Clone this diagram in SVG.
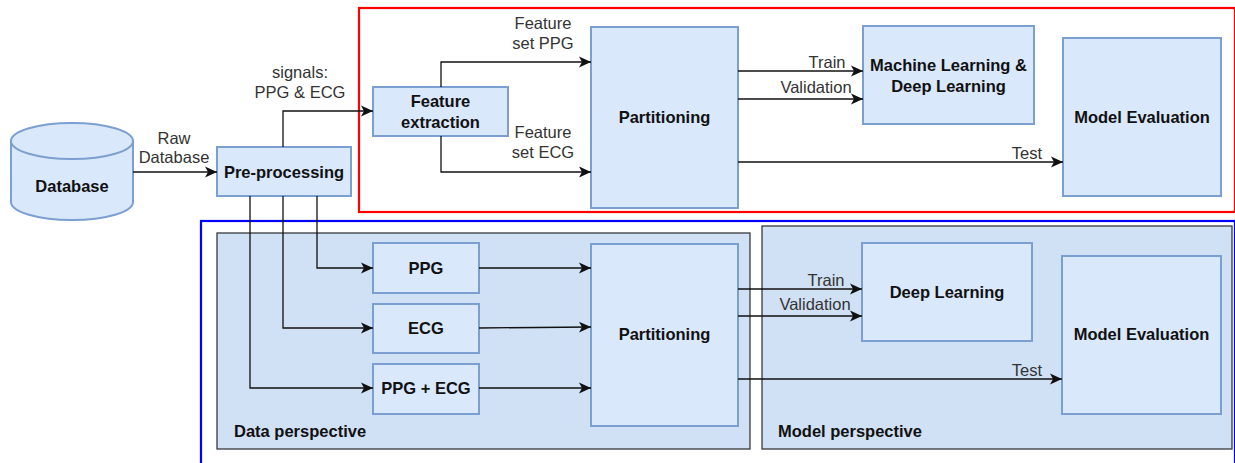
<svg xmlns="http://www.w3.org/2000/svg" width="1235" height="463" viewBox="0 0 1235 463">
<style>
.node{fill:#dae8fc;stroke:#7c9fd1;stroke-width:2}
.persp{fill:#d0e0f5;stroke:#36393d;stroke-width:1.3}
.b{font-family:"Liberation Sans",Arial,sans-serif;font-size:16.5px;font-weight:bold;fill:#111;text-anchor:middle}
.pl{font-family:"Liberation Sans",Arial,sans-serif;font-size:16.5px;font-weight:bold;fill:#111}
.l{font-family:"Liberation Sans",Arial,sans-serif;font-size:16.5px;fill:#333;text-anchor:middle}
.c{fill:none;stroke:#111;stroke-width:1.3}
</style>
<defs>
<marker id="arr" markerUnits="userSpaceOnUse" markerWidth="12" markerHeight="12" refX="10" refY="5" orient="auto" viewBox="0 0 10 10">
<path d="M0,0.5 L10,5 L0,9.5 L2.5,5 z" fill="#111"/>
</marker>
</defs>
<rect width="1235" height="463" fill="#ffffff"/>
<g id="frames">
<rect x="359" y="8" width="876" height="204" fill="none" stroke="#ff0000" stroke-width="2.2"/>
<rect x="201" y="221" width="1034" height="260" fill="none" stroke="#0000ff" stroke-width="2.2"/>
</g>
<g id="data-perspective">
<rect class="persp" x="217" y="233" width="533" height="216"/>
<text class="pl" x="234" y="437">Data perspective</text>
</g>
<g id="model-perspective">
<rect class="persp" x="762" y="226" width="470" height="223"/>
<text class="pl" x="778" y="437">Model perspective</text>
</g>
<g id="database">
<path class="node" d="M11,141 A61,18 0 0 1 133,141 L133,202 A61,18 0 0 1 11,202 Z"/>
<path class="node" style="fill:none" d="M11,141 A61,18 0 0 0 133,141"/>
<text class="b" x="72" y="192">Database</text>
</g>
<g id="pre-processing">
<rect class="node" x="217" y="147" width="134" height="49"/>
<text class="b" x="284" y="178">Pre-processing</text>
</g>
<g id="feature-extraction">
<rect class="node" x="373" y="87" width="135" height="49"/>
<text class="b" x="440.5" y="107">Feature</text>
<text class="b" x="440.5" y="128">extraction</text>
</g>
<g id="partitioning-top">
<rect class="node" x="591" y="27" width="147" height="181"/>
<text class="b" x="664.5" y="123">Partitioning</text>
</g>
<g id="ml-dl">
<rect class="node" x="863" y="26" width="171" height="98"/>
<text class="b" x="948.5" y="71">Machine Learning &amp;</text>
<text class="b" x="948.5" y="92">Deep Learning</text>
</g>
<g id="model-eval-top">
<rect class="node" x="1063" y="38" width="158" height="158"/>
<text class="b" x="1142" y="123">Model Evaluation</text>
</g>
<g id="ppg">
<rect class="node" x="373" y="243" width="106" height="50"/>
<text class="b" x="426" y="274">PPG</text>
</g>
<g id="ecg">
<rect class="node" x="373" y="304" width="106" height="49"/>
<text class="b" x="426" y="334">ECG</text>
</g>
<g id="ppg-ecg">
<rect class="node" x="373" y="364" width="106" height="50"/>
<text class="b" x="426" y="394">PPG + ECG</text>
</g>
<g id="partitioning-bottom">
<rect class="node" x="591" y="244" width="147" height="182"/>
<text class="b" x="664.5" y="340">Partitioning</text>
</g>
<g id="deep-learning">
<rect class="node" x="862" y="243" width="170" height="98"/>
<text class="b" x="947" y="298">Deep Learning</text>
</g>
<g id="model-eval-bottom">
<rect class="node" x="1062" y="256" width="159" height="158"/>
<text class="b" x="1141.5" y="340">Model Evaluation</text>
</g>
<g id="connectors">
<path class="c" marker-end="url(#arr)" d="M133,172 L217,172"/>
<path class="c" marker-end="url(#arr)" d="M283,147 L283,111 L373,111"/>
<path class="c" marker-end="url(#arr)" d="M441,87 L441,62 L591,62"/>
<path class="c" marker-end="url(#arr)" d="M441,136 L441,172 L591,172"/>
<path class="c" marker-end="url(#arr)" d="M738,71 L863,71"/>
<path class="c" marker-end="url(#arr)" d="M738,99 L863,99"/>
<path class="c" marker-end="url(#arr)" d="M738,162 L1063,162"/>
<path class="c" marker-end="url(#arr)" d="M317,196 L317,268 L373,268"/>
<path class="c" marker-end="url(#arr)" d="M283,196 L283,328 L373,328"/>
<path class="c" marker-end="url(#arr)" d="M250,196 L250,388 L373,388"/>
<path class="c" marker-end="url(#arr)" d="M479,268 L591,268"/>
<path class="c" marker-end="url(#arr)" d="M479,328 L591,327"/>
<path class="c" marker-end="url(#arr)" d="M479,388 L591,388"/>
<path class="c" marker-end="url(#arr)" d="M738,289 L862,289"/>
<path class="c" marker-end="url(#arr)" d="M738,316 L862,316"/>
<path class="c" marker-end="url(#arr)" d="M738,379 L1062,379"/>
</g>
<g id="labels">
<text class="l" x="174" y="144">Raw</text>
<text class="l" x="174" y="163">Database</text>
<text class="l" x="300" y="78">signals:</text>
<text class="l" x="300" y="98">PPG &amp; ECG</text>
<text class="l" x="543" y="29">Feature</text>
<text class="l" x="543" y="49">set PPG</text>
<text class="l" x="543" y="138">Feature</text>
<text class="l" x="543" y="158">set ECG</text>
<text class="l" x="827" y="68">Train</text>
<text class="l" x="816" y="93">Validation</text>
<text class="l" x="1027" y="159">Test</text>
<text class="l" x="826" y="286">Train</text>
<text class="l" x="815" y="310">Validation</text>
<text class="l" x="1027" y="376">Test</text>
</g>
</svg>
